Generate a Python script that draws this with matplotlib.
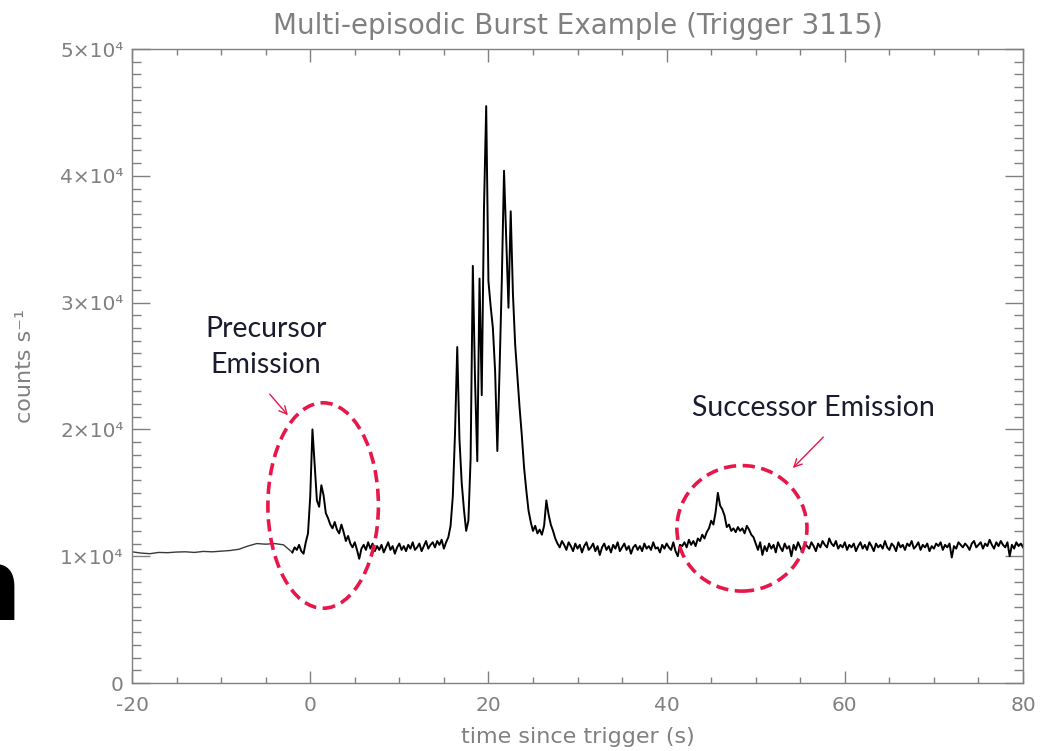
import numpy as np
import matplotlib
matplotlib.use('Agg')
import matplotlib.pyplot as plt
from matplotlib.patches import Ellipse
from matplotlib.ticker import MultipleLocator, FixedLocator

# light curve, BATSE trigger 3115
# pre-trigger data: 1 s bins from -20 s to -3 s
pre_counts = [10350, 10250, 10200, 10300, 10280, 10330, 10350, 10300, 10380,
              10350, 10400, 10450, 10550, 10800, 11000, 10950, 11000, 10900]
pre_start = -20.0
pre_dt = 1.0

# post-trigger data: 0.25 s bins from -2 s to 80 s (one row = 2 s)
fine_counts = [
    10300, 10700, 10500, 10900, 10400, 10200, 11100, 11800,
    14700, 20000, 17200, 14400, 13900, 15600, 14800, 13400,
    13000, 12500, 12200, 12700, 12100, 11800, 12500, 11900,
    11200, 11600, 11000, 10700, 11100, 10500, 9800, 10600,
    10900, 10500, 11100, 10600, 11000, 10400, 10800, 10500,
    10900, 10300, 10700, 11100, 10500, 10800, 10200, 10700,
    11000, 10500, 10800, 10400, 10900, 10600, 11100, 10500,
    10700, 11000, 10400, 10800, 11200, 10600, 10900, 11100,
    10700, 11200, 10900, 11300, 10600, 11100, 11500, 12400,
    14700, 19700, 26500, 19200, 15800, 13700, 12000, 12800,
    17700, 32900, 23800, 17500, 31900, 22700, 37400, 45500,
    31700, 29700, 28000, 24600, 18300, 24700, 31700, 40400,
    35000, 29600, 37200, 30700, 26700, 24200, 21700, 19500,
    17000, 15200, 13600, 12700, 12000, 12400, 11800, 12100,
    11700, 12400, 14400, 13300, 12500, 12000, 11400, 11000,
    10700, 11200, 10900, 10500, 11100, 10800, 10400, 11000,
    10600, 10900, 10300, 10800, 11100, 10500, 10700, 11000,
    10400, 10800, 10100, 10700, 11000, 10500, 10800, 10300,
    10900, 10600, 11100, 10400, 10700, 11000, 10500, 10800,
    10200, 10700, 10900, 10500, 10800, 10400, 11000, 10600,
    10800, 10500, 11100, 10600, 10700, 10300, 10900, 10600,
    11000, 10700, 10500, 11100, 10400, 10000, 10900, 10800,
    11100, 10700, 11300, 10900, 11200, 10800, 11400, 11200,
    11700, 11400, 11900, 12200, 12800, 12500, 13500, 15000,
    14000, 13700, 13200, 12300, 12500, 12000, 12200, 11900,
    12300, 12000, 12200, 11800, 12400, 12100, 11700, 11500,
    11000, 10500, 11100, 10100, 10800, 10400, 11000, 10600,
    10900, 10300, 11100, 10700, 10400, 11000, 10600, 10800,
    10000, 10900, 10500, 11100, 10700, 10300, 11000, 10800,
    10600, 11100, 10800, 10400, 11000, 10700, 11200, 10900,
    10700, 11400, 11000, 10800, 11200, 10600, 10900, 10700,
    11100, 10500, 10900, 10700, 11000, 10400, 10800, 11100,
    10600, 10900, 10500, 11100, 10800, 10400, 11000, 10700,
    10900, 10600, 11200, 10700, 10500, 11000, 10800, 10400,
    11100, 10700, 10900, 10500, 11000, 10800, 11200, 10600,
    10800, 11100, 10500, 10900, 10700, 11000, 10400, 10800,
    10600, 11000, 10800, 11100, 10500, 10900, 10700, 11000,
    9900, 10800, 10600, 11100, 10900, 10700, 11000, 10800,
    10500, 11000, 11200, 10700, 10900, 11100, 10600, 11000,
    10800, 11300, 10900, 10600, 11100, 10800, 11200, 10900,
    10700, 11100, 10000, 10900, 10600, 11100, 10800, 11000,
    10700,
]
fine_start = -2.0
fine_dt = 0.25

x_ticks = [-20, 0, 20, 40, 60, 80]
y_ticks = [0, 10000, 20000, 30000, 40000, 50000]
y_ticklabels = ['0', '1×10⁴', '2×10⁴', '3×10⁴', '4×10⁴', '5×10⁴']

# highlighted episodes: (centre t, centre counts, width s, height counts)
episodes = {
    'Precursor\nEmission': (1.45, 14000, 12.4, 16200),
    'Successor Emission': (48.45, 12200, 14.6, 9900),
}
label_pos = {'Precursor\nEmission': (-5.0, 26500),
             'Successor Emission': (56.5, 21700)}
arrow_tail = {'Precursor\nEmission': (-4.75, 22950),
              'Successor Emission': (57.8, 19550)}
arrow_head = {'Precursor\nEmission': (-2.3, 20950),
              'Successor Emission': (53.95, 16800)}

GREY = '#808080'
RED = '#e8174a'

pre_time = pre_start + pre_dt * np.arange(len(pre_counts))
fine_time = fine_start + fine_dt * np.arange(len(fine_counts))

fig = plt.figure(figsize=(10.42, 7.51), dpi=100)
ax = fig.add_axes([0.1267, 0.0905, 0.8551, 0.8442])

# coarse pre-trigger segment joined onto the first fine bin
ax.plot(np.append(pre_time, fine_time[0]), np.append(pre_counts, fine_counts[0]),
        color='#3a3a3a', lw=1.0)
ax.plot(fine_time, fine_counts, color='black', lw=1.4)

ax.set_xlim(-20, 80)
ax.set_ylim(0, 50000)
ax.xaxis.set_major_locator(FixedLocator(x_ticks))
ax.xaxis.set_minor_locator(MultipleLocator(5))
ax.yaxis.set_major_locator(FixedLocator(y_ticks))
ax.yaxis.set_minor_locator(MultipleLocator(1000))
ax.set_yticklabels(y_ticklabels)
ax.set_xticklabels([str(v) for v in x_ticks])

for s in ax.spines.values():
    s.set_color(GREY)
    s.set_linewidth(1.0)
ax.tick_params(axis='both', which='both', direction='in', top=True, right=True,
               color=GREY, labelcolor=GREY, labelsize=14.5, width=1.0)
ax.tick_params(axis='x', which='major', length=9, pad=9)
ax.tick_params(axis='x', which='minor', length=4.5)
ax.tick_params(axis='y', which='major', length=13, pad=6)
ax.tick_params(axis='y', which='minor', length=6.5)

ax.set_title('Multi-episodic Burst Example (Trigger 3115)', color=GREY,
             fontsize=20, pad=11)
ax.set_xlabel('time since trigger (s)', color=GREY, fontsize=16, labelpad=9)
ax.set_ylabel('counts s⁻¹', color=GREY, fontsize=16, labelpad=18)

for name, (cx, cy, w, h) in episodes.items():
    ax.add_patch(Ellipse((cx, cy), w, h, fill=False, edgecolor=RED, lw=2.6,
                         linestyle=(0, (3.4, 1.8)), zorder=3))
    ax.text(*label_pos[name], name, ha='center', va='center', fontsize=20.5,
            family='Lato', color='#1b1b2f', linespacing=1.45)
    ax.annotate('', xy=arrow_head[name], xytext=arrow_tail[name],
                arrowprops=dict(arrowstyle='->', color=RED, lw=1.0,
                                mutation_scale=14))

# stray slide letter on the far left edge
fig.text(0.021, 0.174, 'n', ha='right', va='baseline', fontsize=72,
         fontweight='bold', family='DejaVu Sans', color='black')

fig.savefig('out.png', dpi=100)
